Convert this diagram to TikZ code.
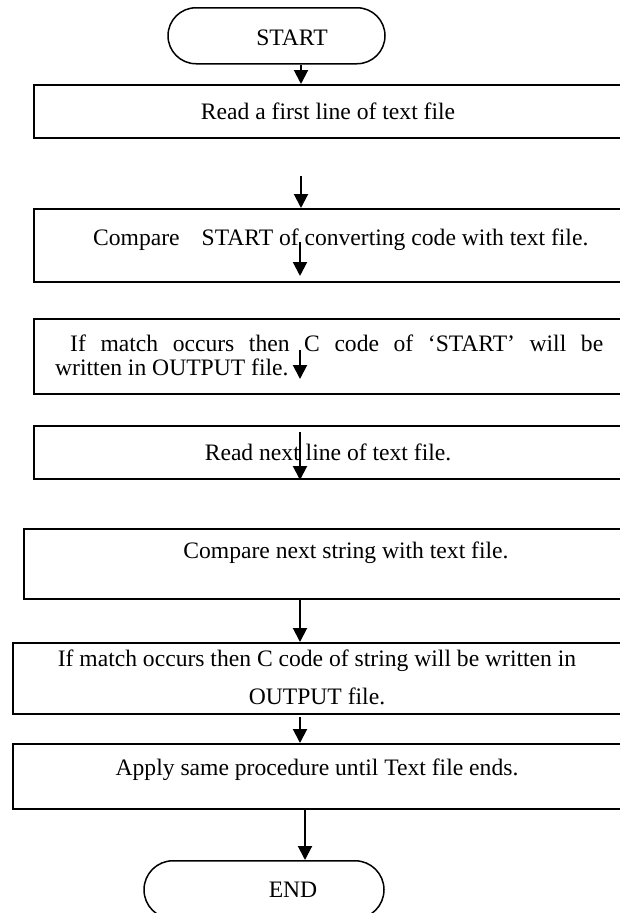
\documentclass[tikz,border=0pt]{standalone}
\usepackage{fontspec}
\setmainfont{Liberation Serif}
\usetikzlibrary{arrows.meta,shapes.misc}
\begin{document}
\begin{tikzpicture}[x=1pt,y=-1pt,
  every node/.style={font=\fontsize{23.6}{27}\selectfont, inner sep=0pt},
  box/.style={draw, line width=2pt, rectangle, anchor=north west},
  term/.style={draw, line width=1.5pt, rounded rectangle, anchor=north west},
  lbl/.style={anchor=center},
  arr/.style={line width=2pt, -{Triangle[length=14pt,width=14pt]}}]
\useasboundingbox (0,0) rectangle (620,913);
\clip (0,0) rectangle (620,913);
% terminals
\node[term, minimum width=217pt, minimum height=56pt] (start) at (196,7) {};
\node[lbl] (startt) at (292,38) {START};
\node[term, minimum width=240pt, minimum height=58pt] (end) at (173,860) {};
\node[lbl] (endt) at (293,890) {END};
% boxes
\node[box, minimum width=620pt, minimum height=53pt] (b1) at (33,84) {};
\node[box, minimum width=620pt, minimum height=73pt] (b2) at (33,208) {};
\node[box, minimum width=620pt, minimum height=75pt] (b3) at (33,318) {};
\node[box, minimum width=620pt, minimum height=53pt] (b4) at (33,425) {};
\node[box, minimum width=630pt, minimum height=70pt] (b5) at (23,528) {};
\node[box, minimum width=640pt, minimum height=71pt] (b6) at (12,642) {};
\node[box, minimum width=640pt, minimum height=65pt] (b7) at (12,743) {};
% texts
\node[lbl] (t1) at (328,111) {Read a first line of text file};
\node[anchor=west] (t2) at (93,240) {Compare\hspace{22pt}START of converting code with text file.};
\node[anchor=west] (t3a) at (70,343) {\makebox[533pt][s]{If match occurs then C code of ‘START’ will be}};
\node[anchor=west] (t3b) at (55,367) {written in OUTPUT file.};
\node[lbl] (t4) at (328,452) {Read next line of text file.};
\node[lbl] (t5) at (346,553) {Compare next string with text file.};
\node[lbl, align=center, font=\fontsize{23.6}{38}\selectfont] (t6) at (317,677) {If match occurs then C code of string will be written in\\OUTPUT file.};
\node[lbl] (t7) at (317,770) {Apply same procedure until Text file ends.};
% free arrow ends
\coordinate (c2) at (301,176);
\coordinate (c3s) at (300,242);
\coordinate (c3e) at (300,276);
\coordinate (c4s) at (300,350);
\coordinate (c4e) at (300,379);
\coordinate (c5s) at (300,432);
\coordinate (c7s) at (300,717);
% arrows
\draw[arr] (301,0 |- start.south) -- (301,0 |- b1.north);
\draw[arr] (c2) -- (c2 |- b2.north);
\draw[arr] (c3s) -- (c3e);
\draw[arr] (c4s) -- (c4e);
\draw[arr] (c5s) -- (c5s |- b4.south);
\draw[arr] (300,0 |- b5.south) -- (300,0 |- b6.north);
\draw[arr] (c7s) -- (c7s |- b7.north);
\draw[arr] (305,0 |- b7.south) -- (305,0 |- end.north);
\end{tikzpicture}
\end{document}
